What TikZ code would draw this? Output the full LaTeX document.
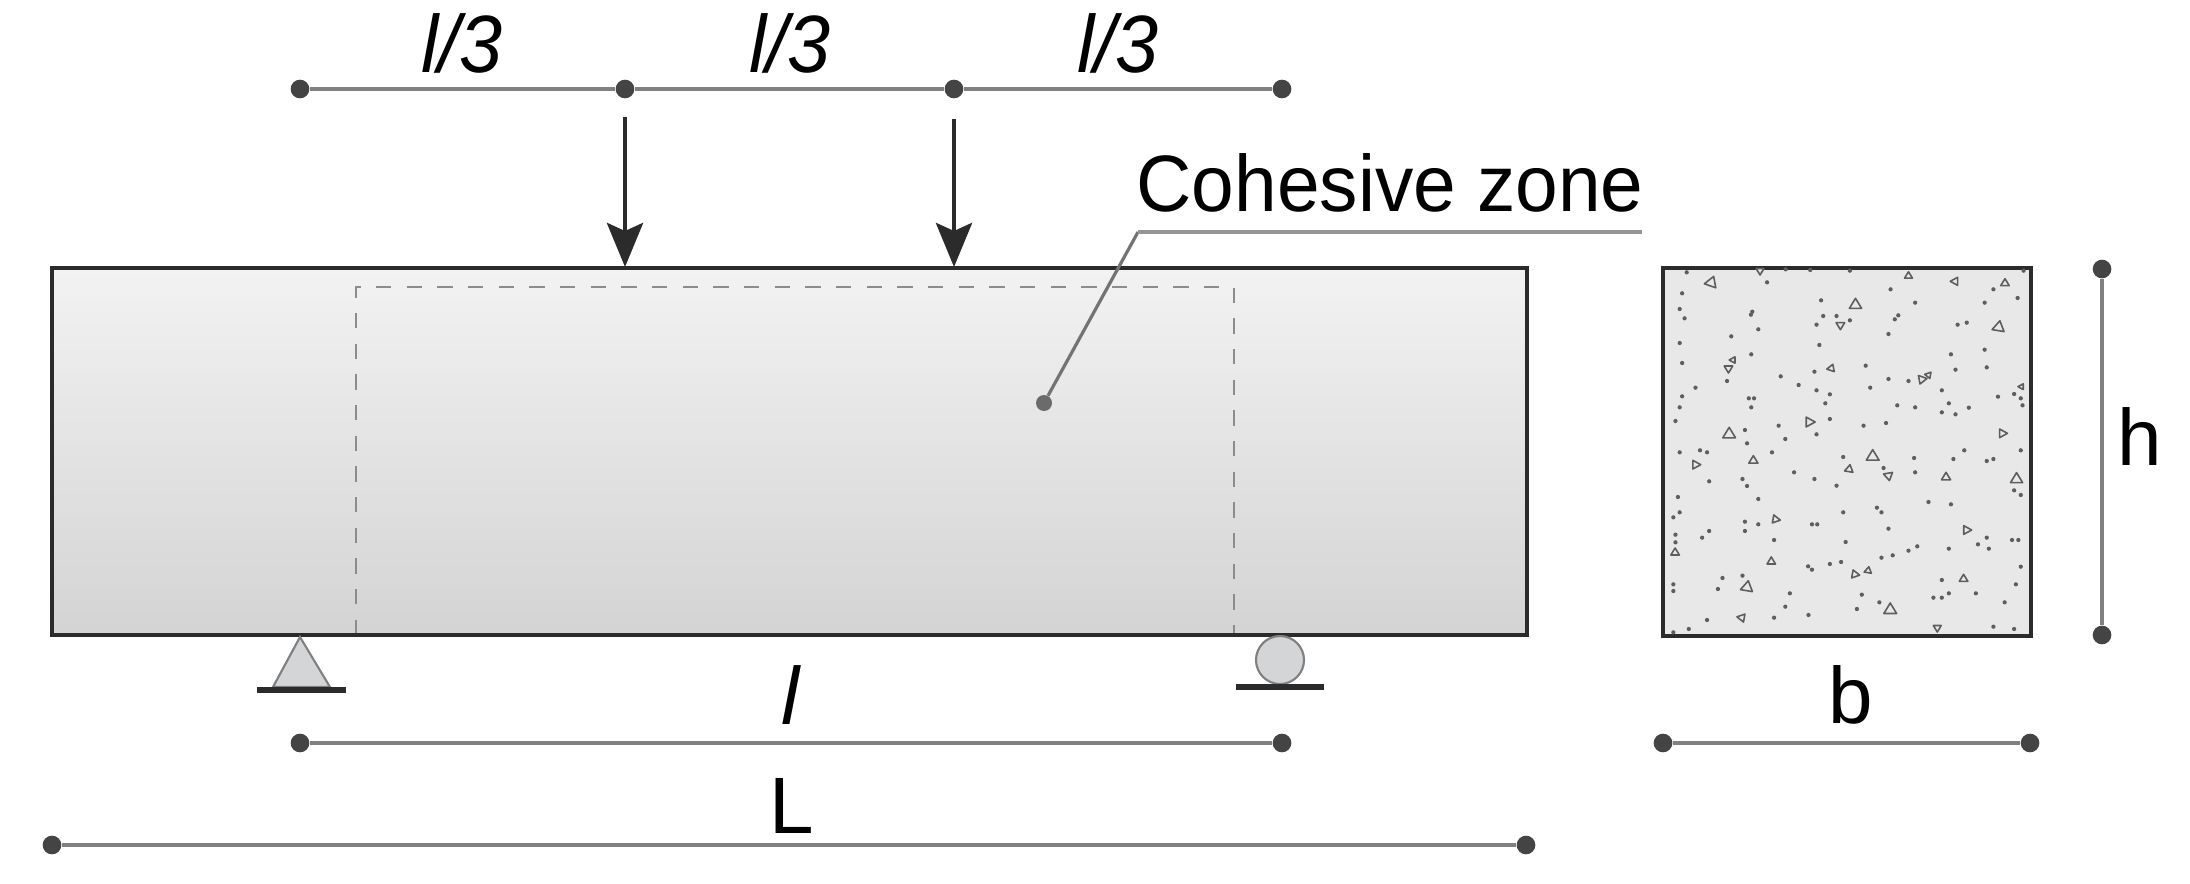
\documentclass[tikz,border=0pt]{standalone}
\usepackage{fontspec}
\setmainfont{Liberation Sans}
\newfontfamily\czfont[FakeStretch=0.958]{Liberation Sans}
\newfontfamily\sliml[FakeStretch=0.95,ItalicFont={Liberation Sans Italic}]{Liberation Sans}
\usetikzlibrary{arrows.meta}
\definecolor{edge}{HTML}{2B2B2B}
\definecolor{dim}{HTML}{808080}
\definecolor{dotc}{HTML}{444444}
\definecolor{speck}{HTML}{5E5E5E}
\tikzset{
  px/.style={x=0.75pt,y=-0.75pt},
  enddot/.style={circle,fill=dotc,draw=none,inner sep=0pt,minimum size=14pt},
  dimline/.style={draw=dim,line width=3pt},
  lab/.style={inner sep=0pt,anchor=base,text=black,font=\fontsize{60}{60}\selectfont},
  labit/.style={lab,font=\fontsize{61}{60}\selectfont\itshape},
  bodyedge/.style={draw=edge,line width=3.2pt,line join=miter},
  zone/.style={draw=black!45,line width=1.9pt,dash pattern=on 11.5pt off 11.5pt},
  ground/.style={draw=edge,line width=4.5pt},
  support/.style={draw=dim,line width=1.6pt,fill=supfill},
  load/.style={draw=edge,line width=3.6pt,-{Stealth[length=33pt,width=27pt,inset=6pt]}},
  tri/.style={draw=speck,line width=1.2pt,line join=round,fill=secfill},
}
\definecolor{supfill}{HTML}{D3D5D7}
\definecolor{secfill}{HTML}{E8E8E8}
\begin{document}
\begin{tikzpicture}[px]
\useasboundingbox (0,0) rectangle (2190,884);
% beam
\path[top color=black!5,bottom color=black!17,shading angle=0] (52,268) rectangle (1527,635);
\draw[zone] (356,635) -- (356,287) -- (1234,287) -- (1234,635);
\draw[bodyedge] (52,268) rectangle (1527,635);
% supports
\draw[support] (300,637) -- (330,687) -- (273,687) -- cycle;
\draw[ground] (257,690) -- (346,690);
\node[circle,support,inner sep=0pt,minimum size=36pt] (roller) at (1280,660) {};
\draw[ground] (1236,687) -- (1324,687);
% section
\draw[bodyedge,fill=secfill] (1663,268) rectangle (2031,636);
\begin{scope}[shift={(1640,240)},x=0.2632pt,y=-0.25pt]
\foreach \a/\b in {133/97,362/127,120/160,113/207,127/235,113/309,120/369,158/443,120/469,113/502,101/543,113/637,171/631,191/637,197/724,108/771,113/817,95/832,101/884,101/907,95/1033,95/1053,222/1047,235/1014,197/873,177/893,191/1140,139/1167,95/1177,
260/289,337/268,317/343,248/423,317/502,299/570,305/610,376/637,292/717,305/738,337/777,299/845,299/873,337/853,382/900,292/1007,382/1133,414/1100,427/1060,
401/409,452/435,395/557,414/597,439/697,497/717,497/395,503/451,541/463,528/490,541/537,503/583,516/181,522/228,560/228,598/241,503/254,511/315,
643/377,656/443,637/557,701/549,708/417,765/423,733/496,784/502,579/651,694/684,784/697,560/737,579/817,675/803,688/817,708/866,586/906,688/953,720/946,765/932,790/919,541/972,573/966,682/1087,618/1107,
714/148,784/188,708/282,1007/148,1076/174,982/188,905/254,931/248,886/343,982/329,899/389,988/382,860/451,880/490,937/503,860/517,899/523,1020/470,1066/462,1085/475,1090/496,
924/631,893/657,988/663,1007/657,1085/631,1066/751,1085/765,822/786,886/793,988/893,963/913,994/926,880/926,1060/900,1078/900,1085/980,860/1020,880/1060,860/1073,836/1073,957/1060,1071/1033,1039/1087,1007/1160,1066/1167,
310/475,325/475,490/853,505/853,781/654,479/979,490/989,632/1064,480/1125,320/215,316/224,736/226,726/238,485/90,598/92,415/88,1093/92}
  \fill[speck] (\a,\b) circle[radius=1.6pt];
\foreach \a/\b/\s/\r in {203/128/20/20,342/92/13/180,614/195/20/0,765/108/13/0,898/124/14/150,1040/130/14/0,1022/262/20/10,571/255/14/180,545/385/13/20,252/385/14/60,265/360/11/30,803/418/15/200,822/405/11/40,1087/440/10/30,482/546/17/90,254/583/21/0,1032/580/15/90,323/662/15/0,158/674/15/90,663/650/21/0,596/688/14/10,708/707/15/170,872/712/15/0,1073/718/20/0,386/838/14/100,930/870/15/90,100/938/14/0,374/965/14/0,612/1003/14/100,650/992/12/10,305/1042/20/10,922/1017/14/0,290/1133/14/40,713/1110/21/0,847/1163/13/180}
  \draw[tri] (\a,\b) ++(270+\r:\s*1.0) -- ++(60+\r:\s*1.73) -- ++(180+\r:\s*1.73) -- cycle;
\end{scope}
% end dots
\node[enddot] (t1) at (300,89) {};
\node[enddot] (t2) at (625,89) {};
\node[enddot] (t3) at (954,89) {};
\node[enddot] (t4) at (1282,89) {};
\node[enddot] (s1) at (300,743) {};
\node[enddot] (s2) at (1282,743) {};
\node[enddot] (o1) at (52,845) {};
\node[enddot] (o2) at (1526,845) {};
\node[enddot] (b1) at (1663,743) {};
\node[enddot] (b2) at (2030,743) {};
\node[enddot] (h1) at (2102,269) {};
\node[enddot] (h2) at (2102,635) {};
\draw[dimline] (t1) -- (t2);
\draw[dimline] (t2) -- (t3);
\draw[dimline] (t3) -- (t4);
\draw[dimline] (s1) -- (s2);
\draw[dimline] (o1) -- (o2);
\draw[dimline] (b1) -- (b2);
\draw[dimline] (h1) -- (h2);
% loads
\coordinate (a1s) at (625,117);
\coordinate (a1e) at (625,267);
\coordinate (a2s) at (954,119);
\coordinate (a2e) at (954,267);
\draw[load] (a1s) -- (a1e);
\draw[load] (a2s) -- (a2e);
% leader
\node[circle,fill=black!58,inner sep=0pt,minimum size=12pt] (czdot) at (1044,403) {};
\coordinate (bend) at (1138,232);
\coordinate (leadend) at (1642,232);
\draw[draw=black!55,line width=2.4pt] (czdot) -- (bend);
\draw[draw=black!42,line width=3pt] (bend) -- (leadend);
% labels
\node[labit] (l1) at (462,73) {\sliml\itshape l/3};
\node[labit] (l2) at (790,73) {\sliml\itshape l/3};
\node[labit] (l3) at (1118,73) {\sliml\itshape l/3};
\node[labit] (l4) at (791,724) {l};
\node[lab] (lL) at (792,833) {L};
\node[lab] (lb) at (1851,723) {b};
\node[lab] (lh) at (2140,465) {h};
\node[lab] (cz) at (1390,212) {\czfont Cohesive zone};
\end{tikzpicture}
\end{document}
